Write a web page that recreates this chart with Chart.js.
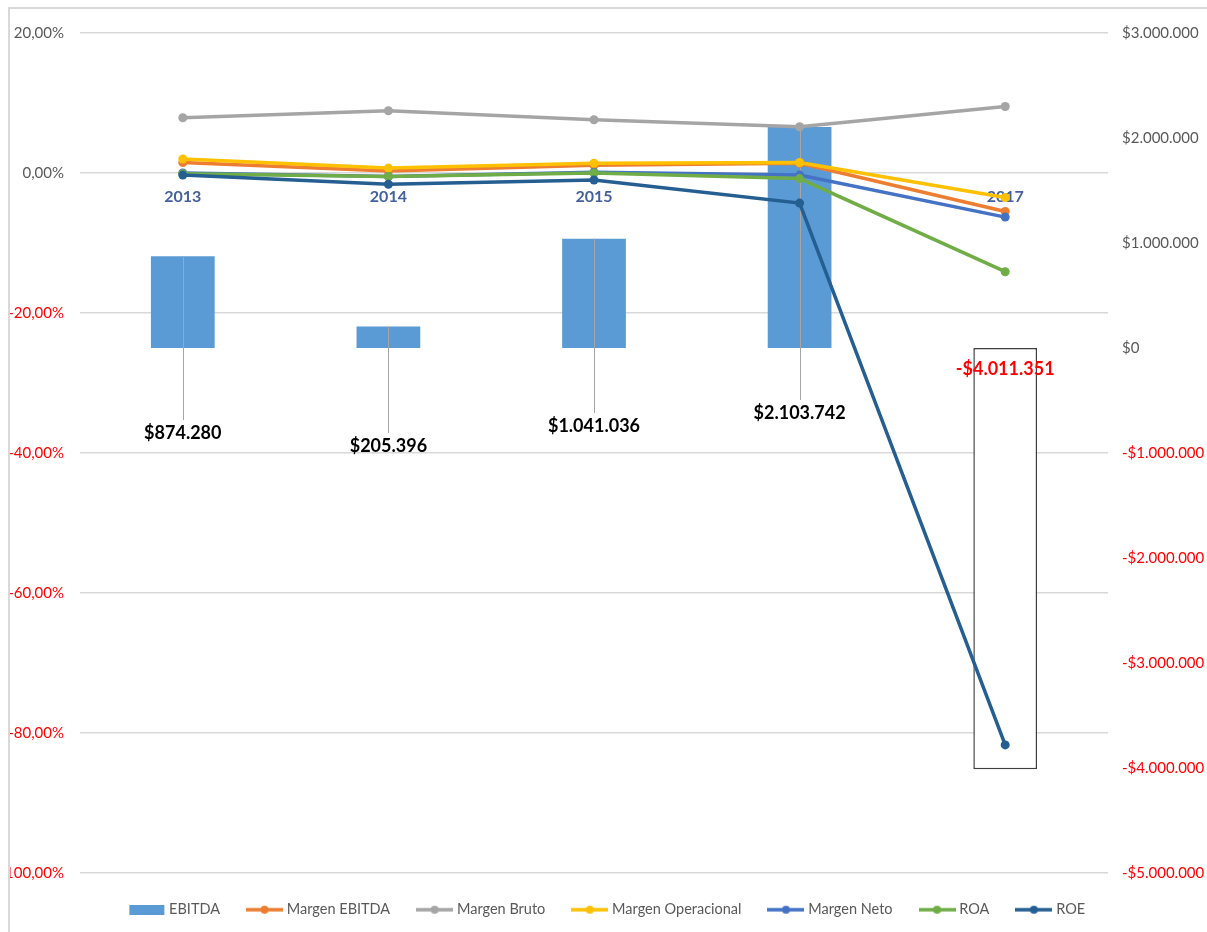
<!DOCTYPE html>
<html lang="es">
<head>
<meta charset="utf-8">
<title>EBITDA y márgenes 2013-2017</title>
<script src="https://cdn.jsdelivr.net/npm/chart.js@4.4.0/dist/chart.umd.min.js"></script>
<style>
  html, body { margin: 0; background: #fff; overflow: hidden; }
  .marco { position: absolute; left: 8px; top: 7px; width: 1300px; height: 1000px; border: 2px solid #d9d9d9; }
  .lienzo { position: absolute; left: 10px; top: 8px; width: 1197px; height: 919px; }
</style>
</head>
<body>
<div class="marco"></div>
<div class="lienzo"><canvas id="grafico"></canvas></div>
<script>
// Datos
const anios = ['2013', '2014', '2015', '2016', '2017'];
const ebitda = [874280, 205396, 1041036, 2103742, -4011351];
const margenEbitda = [1.5, 0.3, 1.1, 1.4, -5.5];
const margenBruto = [7.9, 8.9, 7.6, 6.6, 9.5];
const margenOperacional = [2.0, 0.7, 1.4, 1.5, -3.5];
const margenNeto = [0.0, -0.5, 0.1, -0.3, -6.3];
const roa = [-0.1, -0.5, 0.0, -0.8, -14.1];
const roe = [-0.3, -1.6, -1.0, -4.3, -81.7];

const colores = {
    ebitda: '#5b9bd5',
    margenEbitda: '#ed7d31',
    margenBruto: '#a5a5a5',
    margenOperacional: '#ffc000',
    margenNeto: '#4472c4',
    roa: '#70ad47',
    roe: '#255e91'
};

const fuente = 'Lato';
const gris = '#595959';
const rojo = '#ff0000';

// Formatos
const miles = n => String(Math.round(Math.abs(n))).replace(/\B(?=(\d{3})+(?!\d))/g, '.');
const pesos = v => (v < 0 ? '-$' : '$') + miles(v);
const porcentaje = v => v.toFixed(2).replace('.', ',') + '%';

// Iconos de la leyenda
function icono(color, tipo) {
    const c = document.createElement('canvas');
    c.width = 37; c.height = 10;
    const g = c.getContext('2d');
    g.fillStyle = color;
    g.strokeStyle = color;
    if (tipo === 'barra') {
        g.fillRect(1, 0, 35, 10);
    } else {
        g.lineWidth = 3.5;
        g.beginPath(); g.moveTo(0, 5); g.lineTo(37, 5); g.stroke();
        g.beginPath(); g.arc(18.5, 5, 4, 0, Math.PI * 2); g.fill();
    }
    return c;
}

// Etiquetas de EBITDA con líneas guía
const etiquetasBarras = {
    id: 'etiquetasBarras',
    afterDatasetDraw(chart, args, opts) {
        if (args.index !== 0) return;
        const ctx = chart.ctx;
        const cero = chart.scales.y1.getPixelForValue(0);
        ctx.save();
        ctx.strokeStyle = '#a6a6a6';
        ctx.lineWidth = 1;
        args.meta.data.forEach((barra, i) => {
            if (ebitda[i] < 0) return;
            const x = Math.round(barra.x) + 0.5;
            ctx.beginPath();
            ctx.moveTo(x, barra.y);
            ctx.lineTo(x, cero + opts.desplazamientos[i] - 13);
            ctx.stroke();
        });
        ctx.restore();
    },
    afterDatasetsDraw(chart, args, opts) {
        const ctx = chart.ctx;
        const meta = chart.getDatasetMeta(0);
        const cero = chart.scales.y1.getPixelForValue(0);
        ctx.save();
        ctx.font = 'bold 18px ' + fuente;
        ctx.textAlign = 'center';
        ctx.textBaseline = 'middle';
        meta.data.forEach((barra, i) => {
            ctx.fillStyle = ebitda[i] < 0 ? rojo : '#000000';
            ctx.fillText(pesos(ebitda[i]), barra.x, cero + opts.desplazamientos[i]);
        });
        ctx.restore();
    }
};

const serie = (label, data, color, orden) => ({
    type: 'line',
    label,
    data,
    yAxisID: 'y',
    order: orden,
    borderColor: color,
    backgroundColor: color,
    borderWidth: 3.5,
    pointRadius: 4.5,
    pointBorderWidth: 0,
    pointHoverRadius: 4.5,
    tension: 0
});

const iconos = [
    icono(colores.ebitda, 'barra'),
    icono(colores.margenEbitda),
    icono(colores.margenBruto),
    icono(colores.margenOperacional),
    icono(colores.margenNeto),
    icono(colores.roa),
    icono(colores.roe)
];

new Chart(document.getElementById('grafico'), {
    type: 'bar',
    data: {
        labels: anios,
        datasets: [
            {
                type: 'bar',
                label: 'EBITDA',
                data: ebitda,
                yAxisID: 'y1',
                order: 10,
                backgroundColor: c => c.raw < 0 ? '#ffffff' : colores.ebitda,
                borderColor: '#3f3f3f',
                borderWidth: c => c.raw < 0 ? 1.5 : 0,
                borderSkipped: false,
                barPercentage: 0.31,
                categoryPercentage: 1
            },
            serie('Margen EBITDA', margenEbitda, colores.margenEbitda, 5),
            serie('Margen Bruto', margenBruto, colores.margenBruto, 4),
            serie('Margen Operacional', margenOperacional, colores.margenOperacional, 3),
            serie('Margen Neto', margenNeto, colores.margenNeto, 2),
            serie('ROA', roa, colores.roa, 1),
            serie('ROE', roe, colores.roe, 0)
        ]
    },
    options: {
        responsive: true,
        maintainAspectRatio: false,
        animation: false,
        layout: { padding: { top: 24, left: 0, right: 0, bottom: 0 } },
        plugins: {
            tooltip: { enabled: false },
            legend: {
                position: 'bottom',
                onClick: null,
                labels: {
                    usePointStyle: true,
                    pointStyleWidth: 30,
                    padding: 29.5,
                    color: gris,
                    font: { family: fuente, size: 14.5 },
                    generateLabels: chart => chart.data.datasets.map((ds, i) => ({
                        text: ds.label,
                        pointStyle: iconos[i],
                        fontColor: gris,
                        fillStyle: 'transparent',
                        strokeStyle: 'transparent',
                        lineWidth: 0,
                        hidden: false,
                        datasetIndex: i
                    }))
                }
            },
            etiquetasBarras: { desplazamientos: [85, 98, 78, 65, 21] }
        },
        scales: {
            x: {
                position: { y: 0 },
                offset: true,
                z: 1,
                grid: { display: false },
                border: { display: false },
                ticks: {
                    padding: 6,
                    color: '#44609e',
                    font: { family: fuente, size: 16, weight: 'bold' }
                }
            },
            y: {
                position: 'left',
                min: -100,
                max: 20,
                afterFit: s => { s.width = 70; },
                grid: { color: '#d9d9d9', lineWidth: 1.5, drawTicks: false },
                border: { display: false },
                ticks: {
                    stepSize: 20,
                    padding: 16,
                    color: c => c.tick.value < 0 ? rojo : gris,
                    font: { family: fuente, size: 15 },
                    callback: v => porcentaje(v)
                }
            },
            y1: {
                position: 'right',
                min: -5000000,
                max: 3000000,
                afterFit: s => { s.width = 99; },
                grid: { display: false, drawTicks: false },
                border: { display: false },
                ticks: {
                    stepSize: 1000000,
                    padding: 14,
                    color: c => c.tick.value < 0 ? rojo : gris,
                    font: { family: fuente, size: 15 },
                    callback: v => pesos(v)
                }
            }
        }
    },
    plugins: [etiquetasBarras]
});
</script>
</body>
</html>
